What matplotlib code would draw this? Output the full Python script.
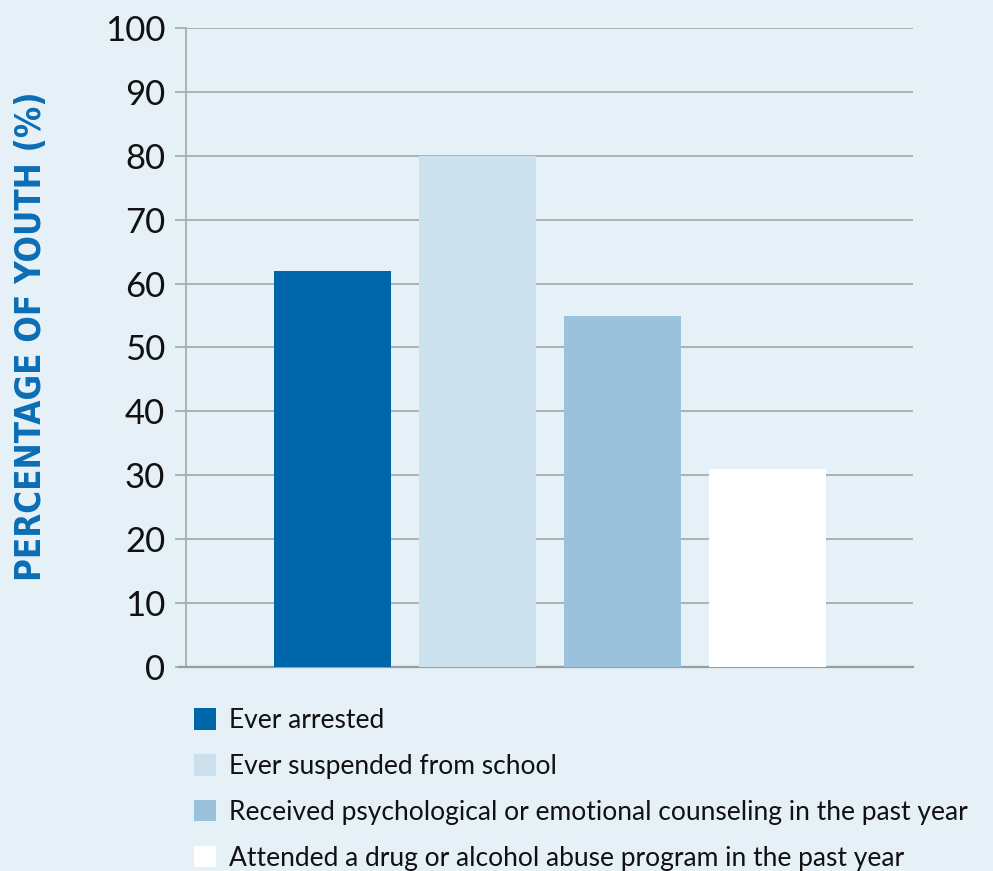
import matplotlib.pyplot as plt
from matplotlib.patches import Patch

# data
categories = ['Ever arrested',
              'Ever suspended from school',
              'Received psychological or emotional counseling in the past year',
              'Attended a drug or alcohol abuse program in the past year']
values = [62, 80, 55, 31]
colors = ['#0066aa', '#cce1ee', '#9bc2dc', '#ffffff']
yticks = [0, 10, 20, 30, 40, 50, 60, 70, 80, 90, 100]

bg = '#e5f0f7'
grid_col = '#a9acb2'

fig = plt.figure(figsize=(9.93, 8.71), dpi=100)
fig.patch.set_facecolor(bg)
ax = fig.add_axes([0.1873, 0.2342, 0.7321, 0.7337])
ax.set_facecolor(bg)

x = list(range(len(values)))
bars = ax.bar(x, values, width=0.807, color=colors, zorder=3)

ax.set_xlim(-1.01, 4.0)
ax.set_ylim(0, 100)
ax.set_yticks(yticks)
ax.set_yticklabels([str(t) for t in yticks], fontsize=25, family='Lato',
                   color='#111111')
ax.set_xticks([])
ax.yaxis.grid(True, color=grid_col, linewidth=1.3, zorder=0)
ax.tick_params(axis='y', length=8, width=1.3, color=grid_col, pad=7)

for s in ['top', 'right']:
    ax.spines[s].set_visible(False)
ax.spines['left'].set_color(grid_col)
ax.spines['left'].set_linewidth(1.3)
ax.spines['bottom'].set_color('#9a9ca3')
ax.spines['bottom'].set_linewidth(1.6)
ax.spines['bottom'].set_bounds(-1.06, 4.0)

fig.text(0.031, 0.614, 'PERCENTAGE OF YOUTH (%)', rotation=90,
         ha='center', va='center', color='#0b6db4', fontsize=25,
         fontweight='bold', family='DejaVu Sans', fontstretch='condensed')

handles = [Patch(facecolor=c, edgecolor='none') for c in colors]
leg = fig.legend(handles, categories, loc='upper left',
                 bbox_to_anchor=(0.195, 0.187), frameon=False,
                 prop={'family': 'Lato', 'size': 19},
                 handlelength=0.83, handleheight=0.87, handletextpad=0.5,
                 labelspacing=0.79, borderaxespad=0, borderpad=0)
for t in leg.get_texts():
    t.set_color('#111111')

fig.savefig('out.png', dpi=100, facecolor=bg)
